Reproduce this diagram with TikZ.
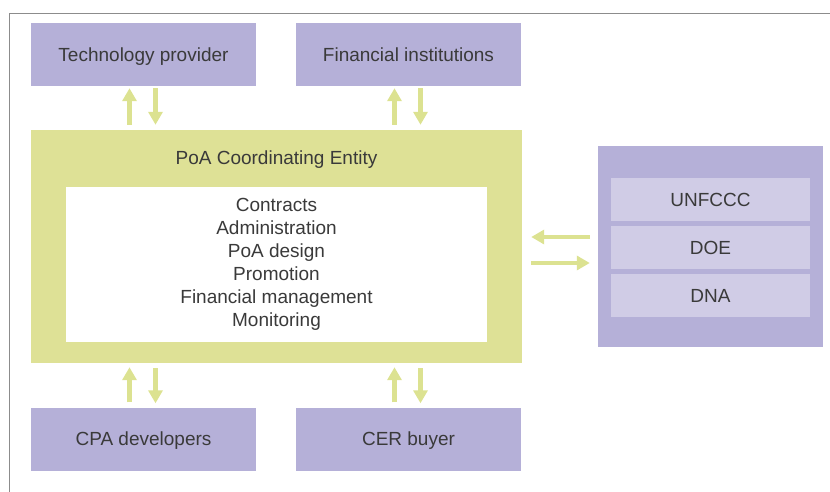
\documentclass[tikz,border=0pt]{standalone}
\usepackage{fontspec}
\setmainfont{Liberation Sans}
\usetikzlibrary{arrows.meta}
\definecolor{boxpurple}{HTML}{B5B0D8}
\definecolor{rowpurple}{HTML}{D0CCE6}
\definecolor{entgreen}{HTML}{DEE196}
\definecolor{arrgreen}{HTML}{DCE291}
\definecolor{txtgray}{HTML}{3A3A3A}
\definecolor{framegray}{HTML}{8C8C8C}
\begin{document}
\begin{tikzpicture}[x=1pt,y=-1pt,
  actor/.style={rectangle,fill=boxpurple,minimum width=225pt,minimum height=63pt,inner sep=0pt,text height=13.6pt,text depth=0pt,font=\fontsize{19}{22}\selectfont,text=txtgray},
  row/.style={rectangle,fill=rowpurple,minimum width=199pt,minimum height=43pt,inner sep=0pt,text height=13.6pt,text depth=0pt,font=\fontsize{19}{22}\selectfont,text=txtgray},
  flow/.style={draw=arrgreen,line width=4.5pt,-{Triangle[length=13pt,width=14pt]}}
]
\useasboundingbox (0,0) rectangle (830,492);
\draw[framegray,line width=0.8pt] (830,13) -- (9,13) -- (9,492);

\node[actor] (tech) at (143.5,54.5) {Technology provider};
\node[actor] (fin) at (408.5,54.5) {Financial institutions};
\node[actor] (cpa) at (143.5,439) {CPA developers};
\node[actor] (cer) at (408.5,439) {CER buyer};

\node[rectangle,fill=entgreen,minimum width=491pt,minimum height=233pt,inner sep=0pt] (ent) at (276.5,246.5) {};
\node[font=\fontsize{19}{22}\selectfont,text=txtgray,text height=13.6pt,text depth=0pt,inner sep=0pt] (entlabel) at (276.5,157.5) {PoA Coordinating Entity};
\node[rectangle,fill=white,minimum width=421pt,minimum height=155pt,inner sep=0pt,align=center,
  font=\fontsize{19}{23}\selectfont,text=txtgray] (tasks) at (276.5,264)
  {Contracts\\Administration\\PoA design\\Promotion\\Financial management\\Monitoring};

\node[rectangle,fill=boxpurple,minimum width=225pt,minimum height=201pt,inner sep=0pt] (reg) at (710.5,246.5) {};
\node[row] (unf) at (710.5,199.5) {UNFCCC};
\node[row] (doe) at (710.5,247.5) {DOE};
\node[row] (dna) at (710.5,295.5) {DNA};

\draw[flow,shorten <=5pt,shorten >=2pt] ([xshift=-14pt]ent.north -| tech.south) -- ([xshift=-14pt]tech.south);
\draw[flow,shorten <=2pt,shorten >=5pt] ([xshift=12pt]tech.south) -- ([xshift=12pt]ent.north -| tech.south);
\draw[flow,shorten <=5pt,shorten >=2pt] ([xshift=-14pt]ent.north -| fin.south) -- ([xshift=-14pt]fin.south);
\draw[flow,shorten <=2pt,shorten >=5pt] ([xshift=12pt]fin.south) -- ([xshift=12pt]ent.north -| fin.south);

\draw[flow,shorten <=5pt,shorten >=4pt] ([xshift=-14pt]cpa.north) -- ([xshift=-14pt]ent.south -| cpa.north);
\draw[flow,shorten <=5pt,shorten >=4pt] ([xshift=12pt]ent.south -| cpa.north) -- ([xshift=12pt]cpa.north);
\draw[flow,shorten <=5pt,shorten >=4pt] ([xshift=-14pt]cer.north) -- ([xshift=-14pt]ent.south -| cer.north);
\draw[flow,shorten <=5pt,shorten >=4pt] ([xshift=12pt]ent.south -| cer.north) -- ([xshift=12pt]cer.north);

\draw[flow,shorten <=8pt,shorten >=9pt] ([yshift=9.5pt]reg.west) -- ([yshift=9.5pt]ent.east);
\draw[flow,shorten <=9pt,shorten >=8pt] ([yshift=-16.5pt]ent.east) -- ([yshift=-16.5pt]reg.west);
\end{tikzpicture}
\end{document}
